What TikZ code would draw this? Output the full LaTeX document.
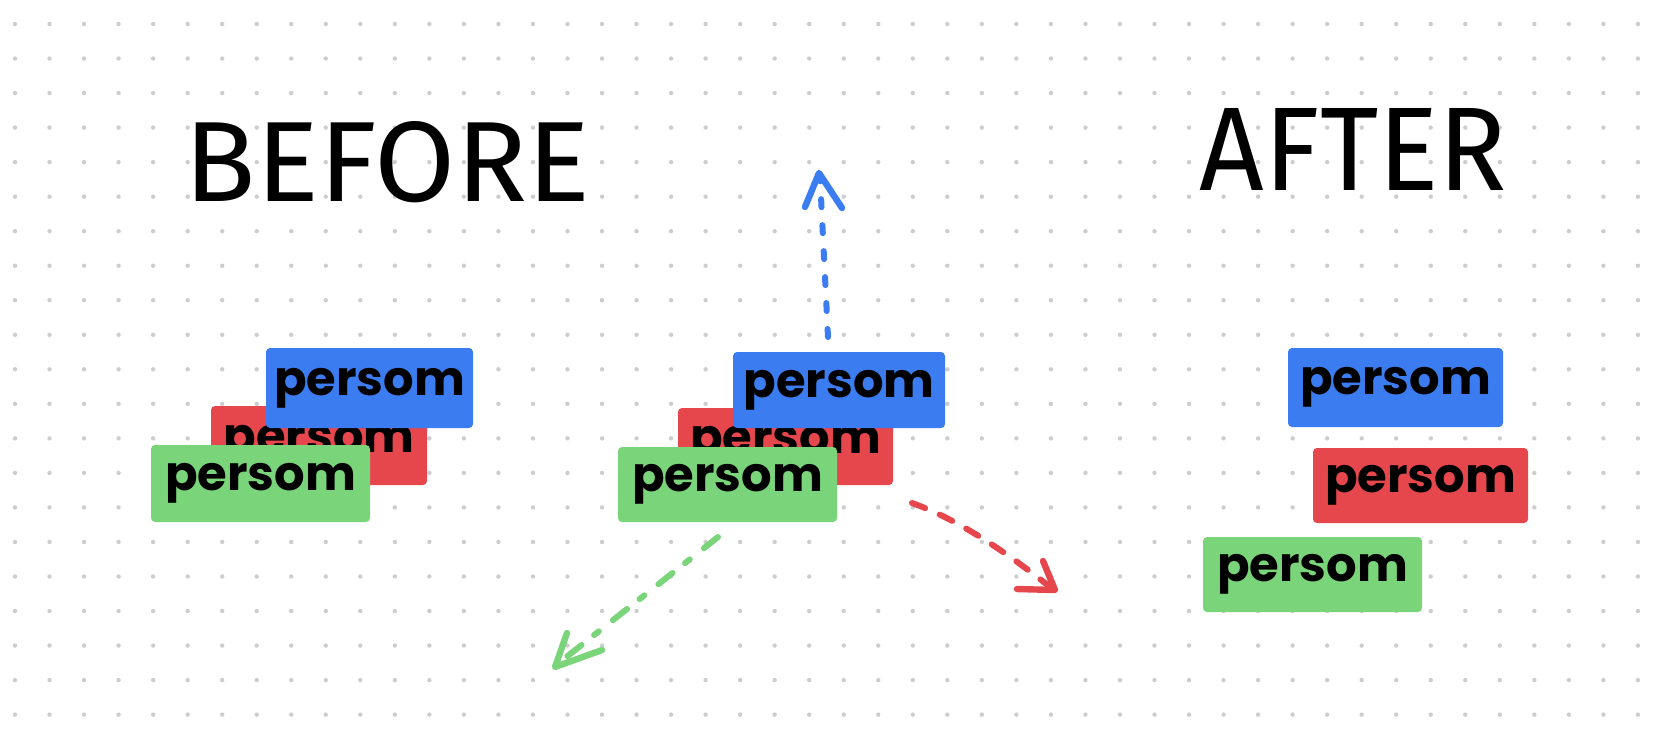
\documentclass[tikz,border=0pt]{standalone}
\usepackage{fontspec}
\newfontfamily\handfont{Poppins}
\newfontfamily\titlefont{Fira Sans}
\definecolor{pblue}{RGB}{59,125,240}
\definecolor{pred}{RGB}{229,71,77}
\definecolor{pgreen}{RGB}{122,213,122}
\definecolor{dotgray}{RGB}{205,205,205}
\begin{document}
\begin{tikzpicture}[x=0.5pt,y=-0.5pt,
  box/.style={rectangle, rounded corners=2pt, inner sep=0pt,
    font=\handfont\bfseries\fontsize{24}{24}\selectfont, text=black},
  title/.style={inner sep=0pt, text=black},
  arr/.style={line width=3pt, line cap=round, line join=round},
  chev/.style={line width=3.2pt, line cap=round, line join=round}]
\useasboundingbox[fill=white] (0,0) rectangle (1668,746);
% dot grid
\foreach \i in {0,...,47}{
  \foreach \j in {0,...,20}{
    \fill[dotgray] ({15+34.53*\i},{24+34.53*\j}) circle (1.1pt);
  }
}
% titles
\node[title] (before) at (387.5,162) {\resizebox{202.5pt}{40pt}{\titlefont BEFORE}};
\node[title] (after) at (1353.5,149) {\resizebox{153.5pt}{41pt}{\titlefont AFTER}};
% left group
\node[box, fill=pred, minimum width=108pt, minimum height=39.5pt] (lr) at (319,445.5) {persom};
\node[box, fill=pblue, minimum width=103.5pt, minimum height=40pt] (lb) at (369.5,388) {persom};
\node[box, fill=pgreen, minimum width=109.5pt, minimum height=38.5pt] (lg) at (260.5,483.5) {persom};
% middle group
\node[box, fill=pred, minimum width=107.5pt, minimum height=38.5pt] (mr) at (785.5,446.5) {persom};
\node[box, fill=pblue, minimum width=106pt, minimum height=38pt] (mb) at (839,390) {persom};
\node[box, fill=pgreen, minimum width=109.5pt, minimum height=37.5pt] (mg) at (727.5,484.5) {persom};
% right group
\node[box, fill=pblue, minimum width=107.5pt, minimum height=39.5pt] (rb) at (1395.5,387.5) {persom};
\node[box, fill=pred, minimum width=107.5pt, minimum height=37.5pt] (rr) at (1420.5,485.5) {persom};
\node[box, fill=pgreen, minimum width=109.5pt, minimum height=37.5pt] (rg) at (1312.5,574.5) {persom};
% arrow coordinates
\coordinate (bs) at (828,337);
\coordinate (be) at (820,177);
\coordinate (bt) at (819,173);
\coordinate (bl) at (805,207);
\coordinate (br) at (842,208);
\coordinate (rs) at (912,503);
\coordinate (re) at (1050,587);
\coordinate (rt) at (1055,590);
\coordinate (ra) at (1043,561);
\coordinate (rb2) at (1017,589);
\coordinate (gs) at (718,537);
\coordinate (ge) at (560,662);
\coordinate (gt) at (555,667);
\coordinate (ga) at (567,633);
\coordinate (gb) at (602,650);
% blue arrow
\draw[arr, pblue, dash pattern=on 4pt off 9pt] (bs) -- (be);
\draw[chev, pblue] (bl) -- (bt) -- (br);
% red arrow
\draw[arr, pred, dash pattern=on 7pt off 8pt] (rs) .. controls (960,520) and (1010,555) .. (re);
\draw[chev, pred] (ra) -- (rt) -- (rb2);
% green arrow
\draw[arr, pgreen, dash pattern=on 9pt off 9pt on 3pt off 8pt] (gs) -- (ge);
\draw[chev, pgreen] (ga) -- (gt) -- (gb);
\end{tikzpicture}
\end{document}
